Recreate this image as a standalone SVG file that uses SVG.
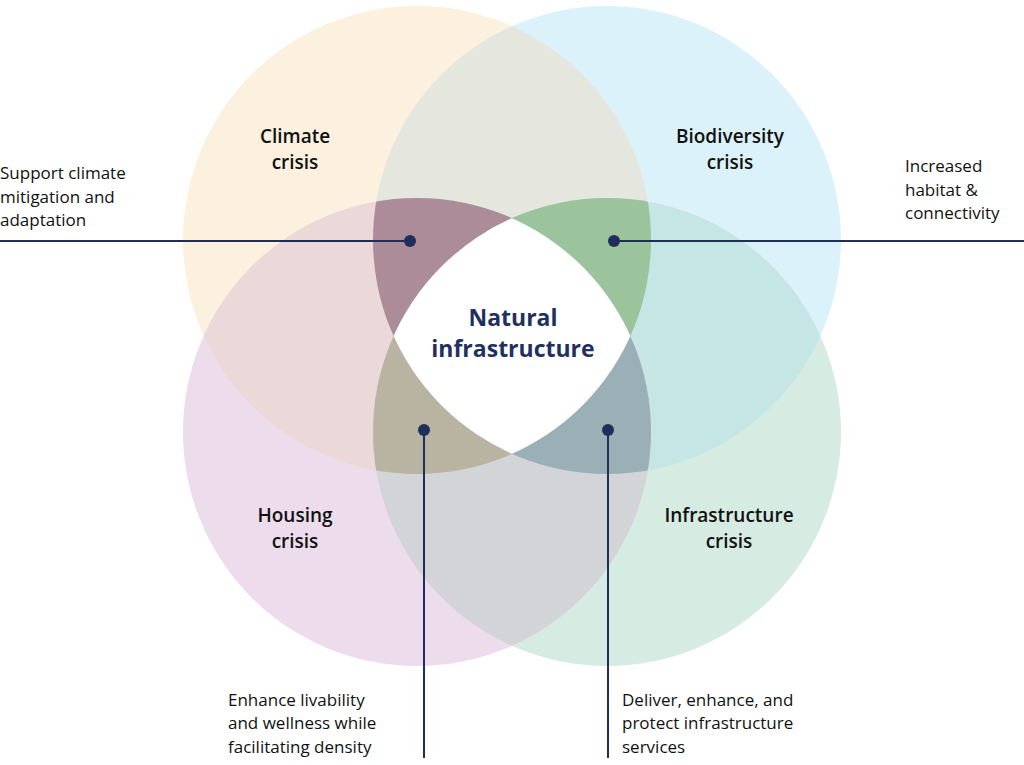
<svg xmlns="http://www.w3.org/2000/svg" width="1024" height="765" viewBox="0 0 1024 765">
<style>
.t{font-family:"Open Sans","Liberation Sans",sans-serif;font-size:19px;fill:#111;font-weight:600;text-anchor:middle}
.s{font-family:"Open Sans","Liberation Sans",sans-serif;font-size:17px;fill:#111}
.n{font-family:"Open Sans","Liberation Sans",sans-serif;font-size:23px;fill:#1f3160;font-weight:700;text-anchor:middle}
.l{stroke:#1f2f5c;stroke-width:2;fill:none}
.d{fill:#1f2f5c}
</style>
<defs>
<clipPath id="cC"><circle cx="417" cy="240" r="234"/></clipPath>
<clipPath id="cB"><circle cx="607" cy="240" r="234"/></clipPath>
<clipPath id="cH"><circle cx="417" cy="432" r="234"/></clipPath>
<clipPath id="cI"><circle cx="607" cy="432" r="234"/></clipPath>
</defs>
<rect width="1024" height="765" fill="#fff"/>
<g id="circles">
<circle cx="417" cy="240" r="234" fill="#fcf0de"/>
<circle cx="607" cy="240" r="234" fill="#dcf2fa"/>
<circle cx="417" cy="432" r="234" fill="#ecdcec"/>
<circle cx="607" cy="432" r="234" fill="#d6ebe1"/>
<g clip-path="url(#cC)"><circle cx="607" cy="240" r="234" fill="#e5e7df"/></g>
<g clip-path="url(#cC)"><circle cx="417" cy="432" r="234" fill="#ebd9d9"/></g>
<g clip-path="url(#cB)"><circle cx="607" cy="432" r="234" fill="#c5e6e4"/></g>
<g clip-path="url(#cH)"><circle cx="607" cy="432" r="234" fill="#d3d4d8"/></g>
<g clip-path="url(#cC)"><g clip-path="url(#cH)"><circle cx="607" cy="240" r="234" fill="#ab8c98"/></g></g>
<g clip-path="url(#cC)"><g clip-path="url(#cB)"><circle cx="607" cy="432" r="234" fill="#9bc49d"/></g></g>
<g clip-path="url(#cC)"><g clip-path="url(#cH)"><circle cx="607" cy="432" r="234" fill="#b8b4a1"/></g></g>
<g clip-path="url(#cB)"><g clip-path="url(#cH)"><circle cx="607" cy="432" r="234" fill="#9bb0b6"/></g></g>
<g clip-path="url(#cC)"><g clip-path="url(#cB)"><g clip-path="url(#cH)"><circle cx="607" cy="432" r="234" fill="#fff"/></g></g></g>
</g>
<g id="connectors">
<path class="l" d="M0 241H410M614 241H1024M424 430V758M608 430V758"/>
<circle class="d" cx="410" cy="241" r="6"/>
<circle class="d" cx="614" cy="241" r="6"/>
<circle class="d" cx="424" cy="430" r="6"/>
<circle class="d" cx="608" cy="430" r="6"/>
</g>
<g id="climate"><text class="t" x="295" y="143">Climate</text><text class="t" x="295" y="169">crisis</text></g>
<g id="biodiversity"><text class="t" x="730" y="143">Biodiversity</text><text class="t" x="730" y="169">crisis</text></g>
<g id="housing"><text class="t" x="295" y="522">Housing</text><text class="t" x="295" y="548">crisis</text></g>
<g id="infrastructure"><text class="t" x="729" y="522">Infrastructure</text><text class="t" x="729" y="548">crisis</text></g>
<g id="natural"><text class="n" x="513" y="326">Natural</text><text class="n" x="513" y="357">infrastructure</text></g>
<g id="climate-label"><text class="s" x="0" y="179">Support climate</text><text class="s" x="0" y="203">mitigation and</text><text class="s" x="0" y="226">adaptation</text></g>
<g id="bio-label"><text class="s" x="905" y="172">Increased</text><text class="s" x="905" y="196">habitat &amp;</text><text class="s" x="905" y="219">connectivity</text></g>
<g id="housing-label"><text class="s" x="228" y="706">Enhance livability</text><text class="s" x="228" y="729">and wellness while</text><text class="s" x="228" y="753">facilitating density</text></g>
<g id="infra-label"><text class="s" x="622" y="706">Deliver, enhance, and</text><text class="s" x="622" y="729">protect infrastructure</text><text class="s" x="622" y="753">services</text></g>
</svg>
